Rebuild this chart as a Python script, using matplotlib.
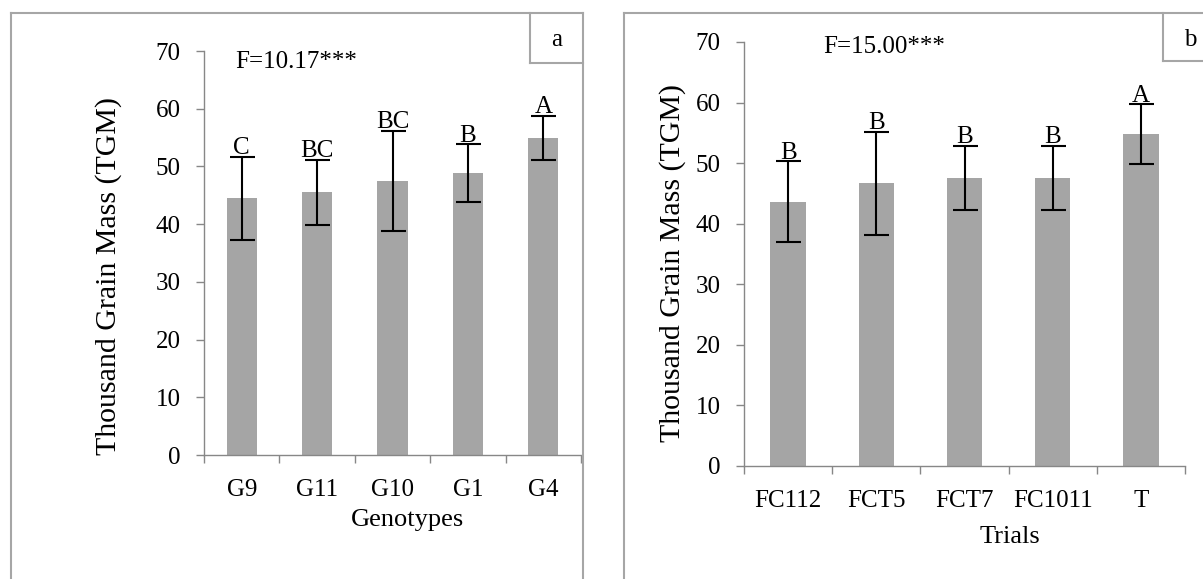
import matplotlib
matplotlib.use("Agg")
import matplotlib.pyplot as plt
from matplotlib.lines import Line2D
import numpy as np

# ---- data ----
genotypes = ["G9", "G11", "G10", "G1", "G4"]
tgm_geno = [44.5, 45.5, 47.5, 48.8, 55.0]
err_geno = [7.2, 5.6, 8.7, 5.0, 3.8]
letters_geno = ["C", "BC", "BC", "B", "A"]
f_geno = "F=10.17***"

trials = ["FC112", "FCT5", "FCT7", "FC1011", "T"]
tgm_trial = [43.6, 46.7, 47.5, 47.5, 54.8]
err_trial = [6.7, 8.5, 5.3, 5.3, 4.9]
letters_trial = ["B", "B", "B", "B", "A"]
f_trial = "F=15.00***"

yticks = [0, 10, 20, 30, 40, 50, 60, 70]

plt.rcParams['font.family'] = ['Liberation Serif', 'DejaVu Serif']
FS = 18
W, H = 1203, 579
BAR = "#a5a5a5"
AX = "#878787"
FRAME = "#a6a6a6"

fig = plt.figure(figsize=(W / 100, H / 100), dpi=100)


def fx(x):
    return x / W


def fy(y):
    return 1 - y / H


def panel(rect, cats, vals, errs, letters, ftext, fpos, xlabel, xlab_pos, ylab_pos):
    ax = fig.add_axes(rect)
    n = len(cats)
    x = np.arange(n)
    ax.bar(x, vals, width=0.4, color=BAR, zorder=2)
    ax.errorbar(x, vals, yerr=errs, fmt='none', ecolor='black', elinewidth=1.5,
                capsize=9, capthick=1.5, zorder=3)
    for xi, v, e, l in zip(x, vals, errs, letters):
        ax.annotate(l, (xi, v + e), xytext=(0, 2), textcoords='offset points',
                    ha='center', va='baseline', fontsize=FS, zorder=4)
    ax.set_xlim(-0.5, n - 0.5)
    ax.set_ylim(0, 70)
    ax.set_yticks(yticks)
    ax.set_xticks(x)
    ax.set_xticklabels(cats)
    ax.set_xticks(np.arange(n + 1) - 0.5, minor=True)
    ax.tick_params(axis='x', which='major', length=0, pad=17, labelsize=FS)
    ax.tick_params(axis='x', which='minor', length=6, width=1, color=AX, direction='out')
    ax.tick_params(axis='y', length=6, width=1, color=AX, direction='out', pad=11, labelsize=FS)
    for s in ['top', 'right']:
        ax.spines[s].set_visible(False)
    for s in ['left', 'bottom']:
        ax.spines[s].set_color(AX)
        ax.spines[s].set_linewidth(1)
    ax.set_xlabel(xlabel, fontsize=19)
    ax.xaxis.set_label_coords(*xlab_pos)
    ax.set_ylabel("Thousand Grain Mass (TGM)", fontsize=21.5)
    ax.yaxis.set_label_coords(*ylab_pos)
    ax.text(fpos[0], fpos[1], ftext, transform=ax.transAxes, ha='left', va='center', fontsize=FS)
    return ax


# left panel: axes from x 204-581 px, y 51-455 px
panel([fx(204), fy(455), (581 - 204) / W, (455 - 51) / H],
      genotypes, tgm_geno, err_geno, letters_geno, f_geno, (0.082, 0.973),
      "Genotypes", (0.541, -0.134), (-0.2175, 0.443))

# right panel: axes from x 744-1185 px, y 42-466 px
panel([fx(744), fy(466), (1185 - 744) / W, (466 - 42) / H],
      trials, tgm_trial, err_trial, letters_trial, f_trial, (0.179, 0.989),
      "Trials", (0.603, -0.142), (-0.1315, 0.479))


def line(x0, y0, x1, y1):
    fig.add_artist(Line2D([fx(x0), fx(x1)], [fy(y0), fy(y1)], transform=fig.transFigure,
                          color=FRAME, linewidth=1.5))


# outer frames (bottom open)
line(11, 13, 583, 13)
line(11, 13, 11, 600)
line(583, 13, 583, 600)
line(624, 13, 1210, 13)
line(624, 13, 624, 600)

# panel letter boxes
line(530, 13, 530, 63)
line(530, 63, 583, 63)
fig.text(fx(557), fy(40), "a", ha='center', va='center', fontsize=FS)
line(1163, 13, 1163, 61)
line(1163, 61, 1210, 61)
fig.text(fx(1190), fy(40), "b", ha='center', va='center', fontsize=FS)

fig.savefig("out.png", dpi=100)
